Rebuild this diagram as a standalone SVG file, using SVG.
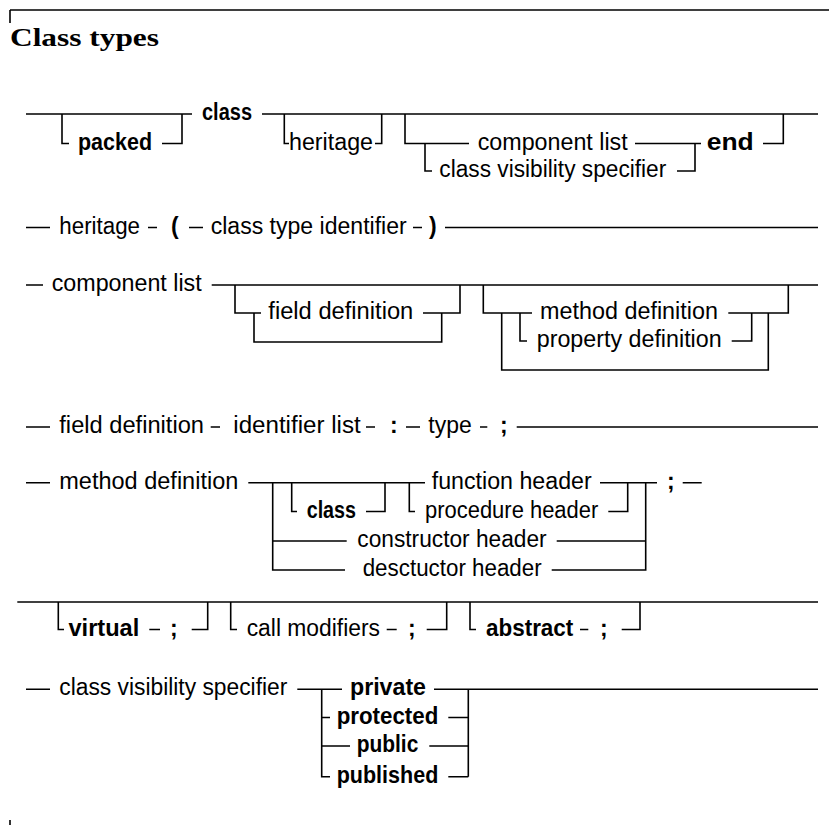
<svg xmlns="http://www.w3.org/2000/svg" width="829" height="825" viewBox="0 0 829 825">
  <style>
    .c { fill: none; stroke: #000; stroke-width: 1.6; }
    .t { font-family: "Liberation Sans", Arial, sans-serif; font-size: 23px; fill: #000; }
    .b { font-weight: bold; }
    .h { font-family: "Liberation Serif", "Times New Roman", serif; font-size: 26px; font-weight: bold; fill: #000; }
  </style>
  <rect width="829" height="825" fill="#fff"/>

  <!-- frame and heading -->
  <path class="c" d="M10,10 H829 M10,10 V23 M10,820 V825"/>
  <text class="h" x="10" y="46" textLength="149" lengthAdjust="spacingAndGlyphs">Class types</text>

  <!-- all rails and branches -->
  <g id="connectors">
    <!-- class type -->
    <path class="c" d="M26,114 H192 M262,114 H818"/>
    <path class="c" d="M62,114 V143.5 H69 M162,143.5 H182 V114"/>
    <path class="c" d="M284.3,114 V143.5 H289 M375,143.5 H381.7 V114"/>
    <path class="c" d="M405,114 V143.5 H469 M635,143.5 H701 M763,143.5 H783.3 V114"/>
    <path class="c" d="M425,143.5 V171 H432 M677,171 H695 V143.5"/>
    <!-- heritage -->
    <path class="c" d="M26,227.5 H50 M148,227.5 H157 M189,227.5 H203 M413,227.5 H422 M445,227.5 H818"/>
    <!-- component list -->
    <path class="c" d="M26,285 H43 M211.7,285 H818"/>
    <path class="c" d="M235,285 V313 H261 M254,313 V342 H441.7 V313 M423,313 H460 V285"/>
    <path class="c" d="M483.3,285 V313 H532 M728.3,313 H788.3 V285"/>
    <path class="c" d="M520,313 V341 H527 M731.7,341 H751.7 V313"/>
    <path class="c" d="M501.7,313 V370 H768.3 V313"/>
    <!-- field definition -->
    <path class="c" d="M26,427 H50 M210.7,427 H220 M366,427 H375 M406,427 H420 M480,427 H487.3 M516.7,427 H818"/>
    <!-- method definition -->
    <path class="c" d="M26,482.7 H50 M248.3,482.7 H425 M600,482.7 H657 M682.7,482.7 H701.7"/>
    <path class="c" d="M272.7,482.7 V570 H345 M272.7,541 H346.7"/>
    <path class="c" d="M291.7,482.7 V511.5 H297 M366,511.5 H385 V482.7"/>
    <path class="c" d="M409.3,482.7 V511.5 H415 M608.3,511.5 H627.7 V482.7"/>
    <path class="c" d="M556.7,541 H645.7 M551.7,570 H645.7 V482.7"/>
    <!-- modifiers -->
    <path class="c" d="M17.3,602 H818"/>
    <path class="c" d="M58.3,602 V629.5 H64 M149.3,629.5 H160 M191.7,629.5 H207.7 V602"/>
    <path class="c" d="M230.7,602 V629.5 H237 M386.7,629.5 H396.7 M426.7,629.5 H446.7 V602"/>
    <path class="c" d="M470,602 V629.5 H476 M580,629.5 H588.3 M621.7,629.5 H640 V602"/>
    <!-- class visibility specifier -->
    <path class="c" d="M26,689.3 H50 M297.3,689.3 H342 M434,689.3 H818"/>
    <path class="c" d="M321.7,689.3 V776.7 H330 M321.7,717.5 H330 M321.7,746 H350"/>
    <path class="c" d="M448.3,717.5 H468.3 M429.3,746 H468.3 M448.3,776.7 H468.3 M468.3,689.3 V776.7"/>
  </g>

  <!-- class type -->
  <g id="kw-packed"><text class="t b" x="78" y="149.5" textLength="74" lengthAdjust="spacingAndGlyphs">packed</text></g>
  <g id="kw-class"><text class="t b" x="202" y="120" textLength="50" lengthAdjust="spacingAndGlyphs">class</text></g>
  <g id="ref-heritage"><text class="t" x="289" y="149.5" textLength="84" lengthAdjust="spacingAndGlyphs">heritage</text></g>
  <g id="ref-component-list"><text class="t" x="477.7" y="149.5" textLength="150" lengthAdjust="spacingAndGlyphs">component list</text></g>
  <g id="ref-class-visibility"><text class="t" x="439.3" y="177" textLength="227" lengthAdjust="spacingAndGlyphs">class visibility specifier</text></g>
  <g id="kw-end"><text class="t b" x="706.7" y="149.5" textLength="47" lengthAdjust="spacingAndGlyphs">end</text></g>

  <!-- heritage -->
  <g id="def-heritage"><text class="t" x="59.3" y="233.5" textLength="80.7" lengthAdjust="spacingAndGlyphs">heritage</text></g>
  <g id="sym-lparen"><text class="t b" x="171" y="233.5">(</text></g>
  <g id="ref-class-type-identifier"><text class="t" x="210.7" y="233.5" textLength="196" lengthAdjust="spacingAndGlyphs">class type identifier</text></g>
  <g id="sym-rparen"><text class="t b" x="429" y="233.5">)</text></g>

  <!-- component list -->
  <g id="def-component-list"><text class="t" x="51.7" y="291" textLength="150" lengthAdjust="spacingAndGlyphs">component list</text></g>
  <g id="ref-field-definition"><text class="t" x="268.3" y="319" textLength="145" lengthAdjust="spacingAndGlyphs">field definition</text></g>
  <g id="ref-method-definition"><text class="t" x="540" y="319" textLength="178" lengthAdjust="spacingAndGlyphs">method definition</text></g>
  <g id="ref-property-definition"><text class="t" x="536.7" y="347" textLength="185" lengthAdjust="spacingAndGlyphs">property definition</text></g>

  <!-- field definition -->
  <g id="def-field-definition"><text class="t" x="59.3" y="433" textLength="144.7" lengthAdjust="spacingAndGlyphs">field definition</text></g>
  <g id="ref-identifier-list"><text class="t" x="233.3" y="433" textLength="127.4" lengthAdjust="spacingAndGlyphs">identifier list</text></g>
  <g id="sym-colon"><text class="t b" x="390" y="433">:</text></g>
  <g id="ref-type"><text class="t" x="428.3" y="433" textLength="43.4" lengthAdjust="spacingAndGlyphs">type</text></g>
  <g id="sym-semicolon-1"><text class="t b" x="500" y="433">;</text></g>

  <!-- method definition -->
  <g id="def-method-definition"><text class="t" x="59.3" y="488.7" textLength="179" lengthAdjust="spacingAndGlyphs">method definition</text></g>
  <g id="kw-class-2"><text class="t b" x="306.7" y="517.5" textLength="49.3" lengthAdjust="spacingAndGlyphs">class</text></g>
  <g id="ref-function-header"><text class="t" x="431.7" y="488.7" textLength="160" lengthAdjust="spacingAndGlyphs">function header</text></g>
  <g id="ref-procedure-header"><text class="t" x="425" y="517.5" textLength="173.3" lengthAdjust="spacingAndGlyphs">procedure header</text></g>
  <g id="ref-constructor-header"><text class="t" x="357.3" y="547" textLength="189.4" lengthAdjust="spacingAndGlyphs">constructor header</text></g>
  <g id="ref-desctuctor-header"><text class="t" x="362.7" y="576" textLength="179" lengthAdjust="spacingAndGlyphs">desctuctor header</text></g>
  <g id="sym-semicolon-2"><text class="t b" x="667" y="488.7">;</text></g>

  <!-- modifiers -->
  <g id="kw-virtual"><text class="t b" x="68.5" y="635.5" textLength="70.8" lengthAdjust="spacingAndGlyphs">virtual</text></g>
  <g id="sym-semicolon-3"><text class="t b" x="170" y="635.5">;</text></g>
  <g id="ref-call-modifiers"><text class="t" x="246.7" y="635.5" textLength="133.3" lengthAdjust="spacingAndGlyphs">call modifiers</text></g>
  <g id="sym-semicolon-4"><text class="t b" x="408" y="635.5">;</text></g>
  <g id="kw-abstract"><text class="t b" x="486" y="635.5" textLength="87.3" lengthAdjust="spacingAndGlyphs">abstract</text></g>
  <g id="sym-semicolon-5"><text class="t b" x="600" y="635.5">;</text></g>

  <!-- class visibility specifier -->
  <g id="def-class-visibility"><text class="t" x="59.3" y="695.3" textLength="228" lengthAdjust="spacingAndGlyphs">class visibility specifier</text></g>
  <g id="kw-private"><text class="t b" x="350" y="695.3" textLength="76" lengthAdjust="spacingAndGlyphs">private</text></g>
  <g id="kw-protected"><text class="t b" x="336.7" y="723.5" textLength="101.6" lengthAdjust="spacingAndGlyphs">protected</text></g>
  <g id="kw-public"><text class="t b" x="356.7" y="752" textLength="61.6" lengthAdjust="spacingAndGlyphs">public</text></g>
  <g id="kw-published"><text class="t b" x="336.7" y="782.7" textLength="101.6" lengthAdjust="spacingAndGlyphs">published</text></g>
</svg>
